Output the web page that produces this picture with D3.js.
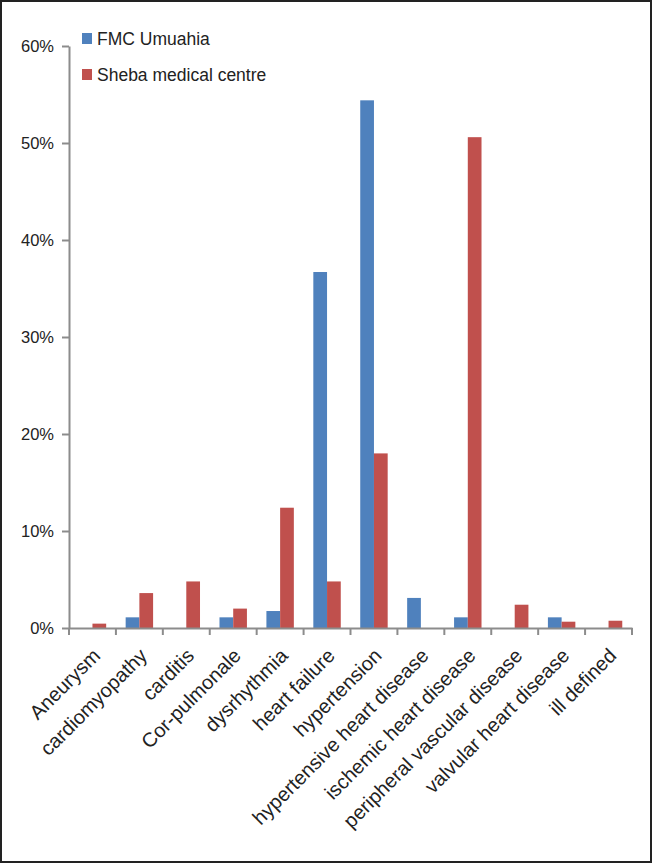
<!DOCTYPE html>
<html>
<head>
<meta charset="utf-8">
<script src="https://cdn.jsdelivr.net/npm/d3@7"></script>
<style>
  html, body { margin: 0; padding: 0; background: #fff; }
  svg { display: block; font-family: "Liberation Sans", Arial, sans-serif; }
</style>
</head>
<body>
<svg id="chart"></svg>
<script>
// categories and values (percent)
const categories = ["Aneurysm", "cardiomyopathy", "carditis", "Cor-pulmonale", "dysrhythmia",
  "heart failure", "hypertension", "hypertensive heart disease", "ischemic heart disease",
  "peripheral vascular disease", "valvular heart disease", "ill defined"];
const seriesNames = ["FMC Umuahia", "Sheba medical centre"];
const fmcValues = [0, 1.1, 0, 1.1, 1.75, 36.7, 54.4, 3.1, 1.1, 0, 1.1, 0];
const shebaValues = [0.45, 3.6, 4.8, 2.0, 12.4, 4.8, 18.0, 0, 50.6, 2.4, 0.65, 0.75];
const yTicks = [0, 10, 20, 30, 40, 50, 60];
const colors = ["#4F81BD", "#C0504D"];

const width = 652, height = 863;
const margin = { left: 69, right: 20, top: 46, bottom: 235 };

const svg = d3.select("#chart").attr("width", width).attr("height", height);

// frame
svg.append("rect")
  .attr("x", 1).attr("y", 1)
  .attr("width", width - 2).attr("height", height - 2)
  .attr("fill", "#fff").attr("stroke", "#222").attr("stroke-width", 2);

const x0 = d3.scaleBand()
  .domain(categories)
  .range([margin.left, 632])
  .paddingInner(0).paddingOuter(0);

const x1 = d3.scaleBand()
  .domain(seriesNames)
  .range([0, x0.bandwidth()])
  .paddingOuter(0.71).paddingInner(0);

const y = d3.scaleLinear()
  .domain([0, 60])
  .range([628, 46]);

const rows = categories.map((c, i) => ({ cat: c, vals: [fmcValues[i], shebaValues[i]] }));

// bars
svg.append("g").selectAll("g")
  .data(rows)
  .join("g")
  .attr("transform", d => `translate(${x0(d.cat)},0)`)
  .selectAll("rect")
  .data(d => d.vals.map((v, j) => ({ name: seriesNames[j], v, j })))
  .join("rect")
  .attr("x", d => x1(d.name))
  .attr("width", x1.bandwidth())
  .attr("y", d => y(d.v))
  .attr("height", d => y(0) - y(d.v))
  .attr("fill", d => colors[d.j]);

// y axis
const yAxis = svg.append("g")
  .attr("transform", `translate(${margin.left},0)`)
  .call(d3.axisLeft(y).tickValues(yTicks).tickFormat(d => d + "%").tickSize(7).tickSizeOuter(0));
yAxis.select(".domain").attr("stroke", "#8c8c8c").attr("stroke-width", 2);
yAxis.selectAll(".tick line").attr("stroke", "#8c8c8c").attr("stroke-width", 2);
yAxis.selectAll(".tick text")
  .attr("x", -15)
  .attr("font-size", 16.5).attr("fill", "#222")
  .attr("font-family", "Liberation Sans, Arial, sans-serif");

// x axis
const xAxis = svg.append("g")
  .attr("transform", `translate(0,${y(0)})`)
  .call(d3.axisBottom(x0).tickSize(0).tickSizeOuter(0));
xAxis.select(".domain").attr("stroke", "#8c8c8c").attr("stroke-width", 2);
// boundary ticks between categories
xAxis.selectAll(".bound")
  .data(d3.range(categories.length + 1))
  .join("line")
  .attr("class", "bound")
  .attr("x1", i => margin.left + i * x0.step())
  .attr("x2", i => margin.left + i * x0.step())
  .attr("y1", 0).attr("y2", 7)
  .attr("stroke", "#8c8c8c").attr("stroke-width", 2);
xAxis.selectAll(".tick text")
  .attr("font-size", 20).attr("fill", "#222")
  .attr("font-family", "Liberation Sans, Arial, sans-serif")
  .attr("text-anchor", "end")
  .attr("y", 0).attr("dy", 0)
  .attr("transform", "translate(9,29) rotate(-45)");

// legend
const legend = svg.append("g");
seriesNames.forEach((name, i) => {
  const ly = 33 + i * 36;
  legend.append("rect")
    .attr("x", 82).attr("y", ly).attr("width", 10).attr("height", 11)
    .attr("fill", colors[i]);
  legend.append("text")
    .attr("x", 97).attr("y", ly + 12)
    .attr("font-size", 17.5).attr("fill", "#222")
    .text(name);
});
</script>
</body>
</html>
